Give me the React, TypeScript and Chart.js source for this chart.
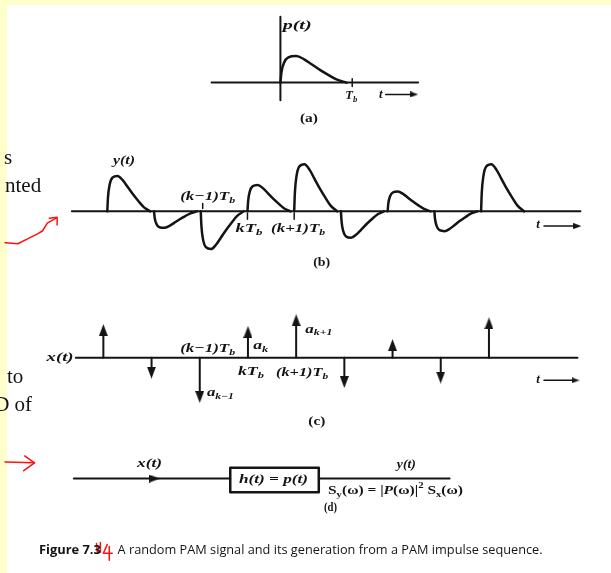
import React, { useEffect, useRef } from 'react';
import { Chart, registerables } from 'chart.js';

Chart.register(...registerables);

const W = 611;
const H = 573;

// ---- data ----
// pulse shape p(t): time in units of Tb, normalised height
const PULSE_T = [0, 0.015, 0.05, 0.11, 0.22, 0.33, 0.43, 0.55, 0.66, 0.78, 0.92];
const PULSE_V = [0, 0.4, 0.75, 0.95, 1, 0.88, 0.7, 0.48, 0.3, 0.12, 0];
// (b) y(t): amplitude of each successive pulse
const Y_AMPS = [0.75, -0.35, -0.8, 0.56, 1.0, -0.56, 0.42, -0.42, 1.0];
// (c) x(t): impulse strengths a_k
const X_AMPS = [0.74, -0.46, -1.0, 0.7, 0.96, -0.67, 0.41, -0.57, 0.89];
// indices labelled (k-1)Tb, kTb, (k+1)Tb
const TICK_INDEX = [2, 3, 4];
const TICK_LABELS = ['(k−1)', 'k', '(k+1)'];

// ---- panel geometry ----
const PA = { x0: 280, y0: 79, tb: 73, h: 27 };
const PB = { x0: 104, y0: 210, tb: 47.5, h: 48 };
const PC = { x0: 100, y0: 359, tb: 49, h: 46 };

const SERIF = '"Liberation Serif", "DejaVu Serif", serif';
const SANS = '"Open Sans", "Liberation Sans", sans-serif';
const INK = '#141414';
const RED = '#ff1010';

type Part = [string, string];
interface Label {
  x: number; y: number; parts: Part[]; size: number; fam: string;
  w?: number; align?: 'left' | 'center'; base?: CanvasTextBaseline; color?: string;
}

const m = (s: string): Part[] => [[s, 'i']];
const tb = (pre: string): Part[] => [[pre + 'T', 'i'], ['b', 's']];

const LABELS: Label[] = [
  // left page fragments
  { x: -1, y: 162, parts: [['s', 'r']], size: 21, fam: SERIF, align: 'left', base: 'alphabetic' },
  { x: 0, y: 190, parts: [['nted', 'r']], size: 21, fam: SERIF, align: 'left', base: 'alphabetic' },
  { x: 2, y: 385, parts: [['to', 'r']], size: 21, fam: SERIF, align: 'left', base: 'alphabetic' },
  { x: -11, y: 413, parts: [['D of', 'r']], size: 21, fam: SERIF, align: 'left', base: 'alphabetic' },
  // (a)
  { x: 297, y: 21, parts: m('p(t)'), size: 13, fam: SERIF, w: 29 },
  { x: 352, y: 92, parts: tb(''), size: 13, fam: SERIF, w: 12 },
  { x: 382, y: 91, parts: m('t'), size: 13, fam: SERIF },
  { x: 309, y: 116, parts: [['(a)', 'b']], size: 12, fam: SERIF, w: 18 },
  // (b)
  { x: 121, y: 158, parts: m('y(t)'), size: 13, fam: SERIF, w: 22 },
  { x: 206, y: 195, parts: tb(TICK_LABELS[0]), size: 13, fam: SERIF, w: 55 },
  { x: 248, y: 228, parts: tb(TICK_LABELS[1]), size: 13, fam: SERIF, w: 27 },
  { x: 298, y: 228, parts: tb(TICK_LABELS[2]), size: 13, fam: SERIF, w: 54 },
  { x: 542, y: 224, parts: m('t'), size: 13, fam: SERIF },
  { x: 322, y: 262, parts: [['(b)', 'b']], size: 12, fam: SERIF, w: 17 },
  // (c)
  { x: 56, y: 359, parts: m('x(t)'), size: 13, fam: SERIF, w: 27 },
  { x: 206, y: 350, parts: tb(TICK_LABELS[0]), size: 13, fam: SERIF, w: 55 },
  { x: 260, y: 347, parts: [['a', 'i'], ['k', 's']], size: 13, fam: SERIF, w: 15 },
  { x: 319, y: 330, parts: [['a', 'i'], ['k+1', 's']], size: 13, fam: SERIF, w: 27 },
  { x: 219, y: 395, parts: [['a', 'i'], ['k−1', 's']], size: 13, fam: SERIF, w: 27 },
  { x: 250, y: 373, parts: tb(TICK_LABELS[1]), size: 13, fam: SERIF, w: 26 },
  { x: 302, y: 374, parts: tb(TICK_LABELS[2]), size: 13, fam: SERIF, w: 52 },
  { x: 542, y: 381, parts: m('t'), size: 13, fam: SERIF },
  { x: 317, y: 424, parts: [['(c)', 'b']], size: 12, fam: SERIF, w: 17 },
  // (d)
  { x: 147, y: 467, parts: m('x(t)'), size: 13, fam: SERIF, w: 25 },
  { x: 273, y: 483, parts: m('h(t) = p(t)'), size: 13, fam: SERIF, w: 69 },
  { x: 408, y: 468, parts: m('y(t)'), size: 13, fam: SERIF, w: 19 },
  {
    x: 397, y: 494, size: 13, fam: SERIF, w: 135,
    parts: [['S', 'b'], ['y', 'S'], ['(ω) = |', 'b'], ['P', 'i'], ['(ω)|', 'b'], ['2', 'p'], [' S', 'b'], ['x', 'S'], ['(ω)', 'b']],
  },
  { x: 331, y: 512, parts: [['(d)', 'b']], size: 12, fam: SERIF, w: 13 },
  // caption
  { x: 66, y: 555, parts: [['Figure 7.3', 'b']], size: 12, fam: SANS, w: 62 },
  { x: 330.5, y: 555, parts: [['A random PAM signal and its generation from a PAM impulse sequence.', 'r']], size: 12, fam: SANS, w: 425 },
];

function fontFor(kind: string, size: number, fam: string) {
  switch (kind) {
    case 'i': return { font: `italic bold ${size}px ${fam}`, dy: 0 };
    case 'b': return { font: `bold ${size}px ${fam}`, dy: 0 };
    case 's': return { font: `italic bold ${Math.round(size * 0.72)}px ${fam}`, dy: size * 0.3 };
    case 'S': return { font: `bold ${Math.round(size * 0.72)}px ${fam}`, dy: size * 0.3 };
    case 'p': return { font: `bold ${Math.round(size * 0.72)}px ${fam}`, dy: -size * 0.35 };
    default: return { font: `${size}px ${fam}`, dy: 0 };
  }
}

function arrowImg(w: number, h: number, color: string) {
  const c = document.createElement('canvas');
  c.width = w; c.height = h;
  const g = c.getContext('2d')!;
  g.fillStyle = color;
  g.beginPath();
  g.moveTo(w / 2, 0);
  g.lineTo(w, h);
  g.lineTo(0, h);
  g.closePath();
  g.fill();
  return c;
}

const bgPlugin = {
  id: 'bg',
  beforeDraw(chart: any) {
    const { ctx, width, height } = chart;
    ctx.save();
    ctx.fillStyle = '#ffffcc';
    ctx.fillRect(0, 0, width, height);
    ctx.fillStyle = '#ffffff';
    ctx.fillRect(7, 5, width - 7, height - 5);
    ctx.restore();
  },
};

const textPlugin = {
  id: 'texts',
  afterDatasetsDraw(chart: any) {
    const ctx: CanvasRenderingContext2D = chart.ctx;
    const sx = chart.scales.x;
    const sy = chart.scales.y;
    for (const L of LABELS) {
      const px = sx.getPixelForValue(L.x);
      const py = sy.getPixelForValue(L.y);
      ctx.save();
      ctx.fillStyle = L.color ?? INK;
      ctx.textBaseline = L.base ?? 'middle';
      ctx.textAlign = 'left';
      const segs = L.parts.map(([t, k]) => {
        const f = fontFor(k, L.size, L.fam);
        ctx.font = f.font;
        return { t, font: f.font, dy: f.dy, w: ctx.measureText(t).width };
      });
      const nat = segs.reduce((s, g) => s + g.w, 0);
      const scale = L.w ? L.w / nat : 1;
      const left = L.align === 'left' ? px : px - (L.w ?? nat) / 2;
      ctx.translate(left, py);
      ctx.scale(scale, 1);
      let cx = 0;
      for (const g of segs) {
        ctx.font = g.font;
        ctx.fillText(g.t, cx, g.dy);
        cx += g.w;
      }
      ctx.restore();
    }
  },
};

export default function App() {
  const ref = useRef<HTMLCanvasElement>(null);

  useEffect(() => {
    document.body.style.margin = '0';
    const canvas = ref.current;
    if (!canvas) return;

    const upHead = arrowImg(9, 12, INK);
    const smallHead = arrowImg(6, 8, INK);
    const inHead = arrowImg(8, 11, INK);

    const ds: any[] = [];
    const line = (pts: number[][], o: { w?: number; color?: string; curve?: boolean } = {}) => {
      ds.push({
        type: 'scatter',
        data: pts.map(([x, y]) => ({ x, y })),
        showLine: true,
        pointRadius: 0,
        borderColor: o.color ?? INK,
        borderWidth: o.w ?? 2,
        cubicInterpolationMode: o.curve ? 'monotone' : 'default',
        tension: 0,
        fill: false,
        clip: false,
        borderCapStyle: 'round',
        borderJoinStyle: 'round',
        order: 2,
      });
    };
    const head = (x: number, y: number, rot: number, img: HTMLCanvasElement) => {
      ds.push({
        type: 'scatter',
        data: [{ x, y }],
        showLine: false,
        pointStyle: img,
        pointRadius: 4,
        pointRotation: rot,
        clip: false,
        order: 1,
      });
    };

    // ---- (a) p(t) ----
    line([[210, PA.y0], [420, PA.y0]]);
    line([[PA.x0, 12], [PA.x0, 97]]);
    line([[PA.x0 + PA.tb, PA.y0 - 4], [PA.x0 + PA.tb, PA.y0 + 4]], { w: 1.5 });
    line(PULSE_T.map((t, i) => [PA.x0 + t * PA.tb, PA.y0 - PULSE_V[i] * PA.h]), { w: 2.5, curve: true });
    line([[387, 91], [414, 91]], { w: 1.5 });
    head(416, 91, 90, smallHead);

    // ---- (b) y(t) ----
    line([[68, PB.y0], [585, PB.y0]]);
    Y_AMPS.forEach((a, k) => {
      line(PULSE_T.map((t, i) => [PB.x0 + (k + t) * PB.tb, PB.y0 - a * PULSE_V[i] * PB.h]), { w: 2.5, curve: true });
    });
    TICK_INDEX.forEach((k, j) => {
      const x = PB.x0 + k * PB.tb;
      if (j === 0) line([[x + 2, PB.y0 - 8], [x + 2, PB.y0 - 3]], { w: 1.5 });
      else line([[x, PB.y0 + 2], [x, PB.y0 + 8]], { w: 1.5 });
    });
    line([[548, 225], [580, 225]], { w: 1.5 });
    head(582, 225, 90, smallHead);

    // ---- (c) x(t) ----
    line([[72, PC.y0], [582, PC.y0]]);
    X_AMPS.forEach((a, k) => {
      const x = PC.x0 + k * PC.tb;
      const tip = PC.y0 - a * PC.h;
      const dir = a > 0 ? 1 : -1;
      line([[x, PC.y0], [x, tip + dir * 6]], { w: 2 });
      head(x, tip + dir * 6, a > 0 ? 0 : 180, upHead);
    });
    line([[548, 382], [578, 382]], { w: 1.5 });
    head(580, 382, 90, smallHead);

    // ---- (d) block diagram ----
    line([[70, 482], [229, 482]]);
    head(152, 482, 90, inHead);
    line([[229, 471], [319, 471], [319, 496], [229, 496], [229, 471]], { w: 2.5 });
    line([[319, 482], [452, 482]]);

    // ---- red hand annotations ----
    line([[0, 242], [13, 243], [23, 238], [33, 233], [38, 230], [43, 222], [52, 217]], { w: 1.5, color: RED });
    line([[45, 217], [53, 216], [53, 224]], { w: 1.5, color: RED });
    line([[0, 465], [30, 466]], { w: 1.5, color: RED });
    line([[20, 459], [30, 466], [19, 474]], { w: 1.5, color: RED });
    line([[93, 548], [94, 558]], { w: 1.5, color: RED });
    line([[97, 547], [97, 557]], { w: 1.5, color: RED });
    line([[104, 549], [100, 558], [109, 558]], { w: 1.5, color: RED });
    line([[106, 551], [106, 565]], { w: 1.5, color: RED });

    const chart = new Chart(canvas, {
      type: 'scatter',
      data: { datasets: ds },
      options: {
        animation: false,
        responsive: false,
        maintainAspectRatio: false,
        events: [],
        layout: { padding: 0 },
        plugins: { legend: { display: false }, tooltip: { enabled: false } },
        scales: {
          x: { type: 'linear', min: 0, max: W, display: false },
          y: { type: 'linear', min: 0, max: H, reverse: true, display: false },
        },
      },
      plugins: [bgPlugin, textPlugin],
    });
    return () => chart.destroy();
  }, []);

  return (
    <div style={{ width: W, height: H }}>
      <canvas ref={ref} width={W} height={H} style={{ display: 'block' }} />
    </div>
  );
}
